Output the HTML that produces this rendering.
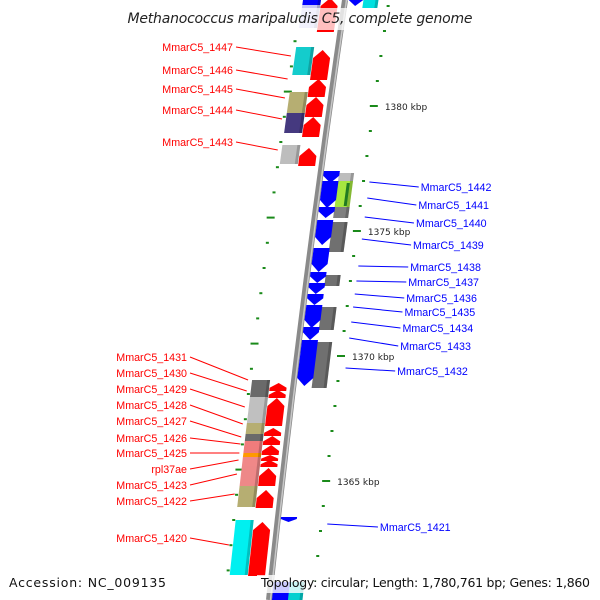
<!DOCTYPE html>
<html><head><meta charset="utf-8"><style>
html,body{margin:0;padding:0;background:#fff}
svg{display:block;font-family:"DejaVu Sans","Liberation Sans",sans-serif}
</style></head><body>
<svg id="map" width="600" height="600" viewBox="0 0 600 600" xmlns="http://www.w3.org/2000/svg">
<rect width="600" height="600" fill="#fff"/>
<g id="ticks"></g>
<g id="backbone-g"></g>
<g id="genes"></g>
<g id="labels"></g>
<rect x="124" y="8" width="352" height="22" fill="#fff" fill-opacity="0.75"/>
<text x="300" y="23" text-anchor="middle" font-size="14" font-style="italic" fill="#222" textLength="345">Methanococcus maripaludis C5, complete genome</text>
<text x="9" y="587" font-size="12.5" fill="#111" textLength="157">Accession: NC_009135</text>
<rect x="257" y="575" width="336" height="18" fill="#fff" fill-opacity="0.8"/>
<text x="261" y="587" font-size="12.5" fill="#111" textLength="329">Topology: circular; Length: 1,780,761 bp; Genes: 1,860</text>
</svg>
<script>
// forward (red) genes: [yTop, yBottom]
const fwdGenes=[[-2,32],[50,80],[79,97],[97,117],[117,137],[148,166],[383,391],[390,398],[398,426],[428,436],[436,445],[445,455],[455,461],[460,467],[468,486],[490,508],[522,576]];
// reverse (blue) genes: [yTop, yBottom]
const revGenes=[[-5,6],[171,183],[181,208],[207,218],[220,245],[248,272],[272,283],[283,294],[294,305],[305,328],[327,340],[340,386],[517,522],[582,612]];
// COG boxes left: [yTop,yBottom,color]
const cogLeft=[[47,75,"#14cccc"],[92,113,"#b6ae72"],[113,133,"#45397f"],[145,164,"#bdbdbd"],[380,397,"#6a6a6a"],[397,423,"#c0c0c0"],[423,434,"#b6ae72"],[434,441,"#6a6a6a"],[441,453,"#f07c7c"],[453,457,"#ff9900"],[457,466,"#f08888"],[466,486,"#ee8888"],[486,507,"#b6ae72"],[520,575,"#00f0f0"],[5,28,"#c8c8f5"],[-5,5,"#0000ff"]];
// COG boxes right
const cogRight=[[173,181,"#bdbdbd"],[181,207,"#a6e640"],[207,218,"#808080"],[222,252,"#707070"],[275,286,"#707070"],[307,330,"#707070"],[342,388,"#707070"],[-5,8,"#00e0e0"],[582,612,"#00d0d0"]];
// labels
const fwdLabels=["MmarC5_1447","MmarC5_1446","MmarC5_1445","MmarC5_1444","MmarC5_1443","MmarC5_1431","MmarC5_1430","MmarC5_1429","MmarC5_1428","MmarC5_1427","MmarC5_1426","MmarC5_1425","rpl37ae","MmarC5_1423","MmarC5_1422","MmarC5_1420"];
const fwdLabelY=[47,70,89,110,142,357,373,389,405,421,438,453,469,485,501,538];
const fwdTargetY=[56,79,98,119,150,380,391,407,424,437,444,453,460,474,494,545];
const revLabels=["MmarC5_1442","MmarC5_1441","MmarC5_1440","MmarC5_1439","MmarC5_1438","MmarC5_1437","MmarC5_1436","MmarC5_1435","MmarC5_1434","MmarC5_1433","MmarC5_1432","MmarC5_1421"];
const revLabelY=[187,205,223,245,267,282,298,312,328,346,371,527];
const revTargetY=[182,198,217,239,266,281,294,307,322,338,368,524];
const tickKbp=["1380 kbp","1375 kbp","1370 kbp","1365 kbp"];
const tickMajorY=[106,231,356,481];

const NS="http://www.w3.org/2000/svg";
function bx(y){return 345-0.1467*y+3.33e-5*y*y;}
function mk(tag,attrs,parent){const e=document.createElementNS(NS,tag);for(const k in attrs)e.setAttribute(k,attrs[k]);parent.appendChild(e);return e;}
const G=document.getElementById('genes'),T=document.getElementById('ticks'),L=document.getElementById('labels'),B=document.getElementById('backbone-g');
function pts(a){return a.map(p=>p[0].toFixed(1)+','+p[1].toFixed(1)).join(' ');}
let bb=[];for(let y=0;y<=600;y+=20)bb.push([bx(y),y]);
const bl=mk('polyline',{points:pts(bb),fill:'none',stroke:'#8a8a8a','stroke-width':6},B);

const bl2=mk('polyline',{points:pts(bb.map(p=>[p[0]+1.5,p[1]])),fill:'none',stroke:'#c8c8c8','stroke-width':1.5},B);

function box(y1,y2,off,w,col,name){
  const a=[[bx(y1)+off-w/2,y1],[bx(y1)+off+w/2,y1],[bx(y2)+off+w/2,y2],[bx(y2)+off-w/2,y2]];
  const e=mk('polygon',{points:pts(a),fill:col},G);
  
  const s=[[bx(y1)+off+w/2-3,y1],[bx(y1)+off+w/2,y1],[bx(y2)+off+w/2,y2],[bx(y2)+off+w/2-3,y2]];
  const e2=mk('polygon',{points:pts(s),fill:'#000','fill-opacity':0.2},G);
  
}
function arrow(y1,y2,off,w,col,up,name){
  const h=Math.min(8,(y2-y1)*0.6);let a;
  if(up){a=[[bx(y1)+off,y1],[bx(y1+h)+off+w/2,y1+h],[bx(y2)+off+w/2,y2],[bx(y2)+off-w/2,y2],[bx(y1+h)+off-w/2,y1+h]];}
  else{a=[[bx(y1)+off-w/2,y1],[bx(y1)+off+w/2,y1],[bx(y2-h)+off+w/2,y2-h],[bx(y2)+off,y2],[bx(y2-h)+off-w/2,y2-h]];}
  const e=mk('polygon',{points:pts(a),fill:col},G);
  
}
cogLeft.forEach((c,i)=>box(c[0],c[1],-33,18,c[2],'cog-left-'+i));
cogRight.forEach((c,i)=>box(c[0],c[1],26,15,c[2],'cog-right-'+i));
fwdGenes.forEach((g,i)=>arrow(g[0],g[1],-15,17,'#ff0000',true,'forward-gene-'+i));
revGenes.forEach((g,i)=>arrow(g[0],g[1],11,16,'#0000ff',false,'reverse-gene-'+i));
box(183,206,29,3,'#2a9a2a','cog-stripe');
for(let k=0;k<24;k++){const y=6+25*k;const maj=tickMajorY.some(m=>Math.abs(m-y)<3);
  const e=mk('rect',{x:bx(y)+44-(maj?4:1.5),y:y-1,width:maj?8:3,height:2,fill:'#1a8a1a'},T);
  }
tickMajorY.forEach((y,i)=>{const t=mk('text',{x:bx(y)+55,y:y+4,'font-size':9,fill:'#222'},T);t.textContent=tickKbp[i];
  });
for(let k=0;k<23;k++){const y=16+25.2*k;const maj=(k-3)%5==0&&k>=3;
  const e=mk('rect',{x:bx(y)-44-(maj?4:1.5),y:y-1,width:maj?8:3,height:2,fill:'#1a8a1a'},T);
  }
const LF='"Liberation Sans", sans-serif';
fwdLabels.forEach((n,i)=>{const ty=fwdTargetY[i],ly=fwdLabelY[i];const x2=bx(ty)-46;
  const sx=i<5?236:190;
  const ln=mk('line',{x1:sx,y1:ly,x2:x2,y2:ty,stroke:'#ff0000','stroke-width':1},L);
  
  const t=mk('text',{x:sx-3,y:ly+4,'text-anchor':'end','font-size':10.7,'font-family':LF,fill:'#ff0000'},L);t.textContent=n;
  });
revLabels.forEach((n,i)=>{const ty=revTargetY[i],ly=revLabelY[i];const x1=bx(ty)+50;const tx=bx(ly)+102+(i==11?1:0);
  const ln=mk('line',{x1:x1,y1:ty,x2:tx-2,y2:ly,stroke:'#0000ff','stroke-width':1},L);
  
  const t=mk('text',{x:tx,y:ly+4,'font-size':10.7,'font-family':LF,fill:'#0000ff'},L);t.textContent=n;
  });
</script>
</body></html>
